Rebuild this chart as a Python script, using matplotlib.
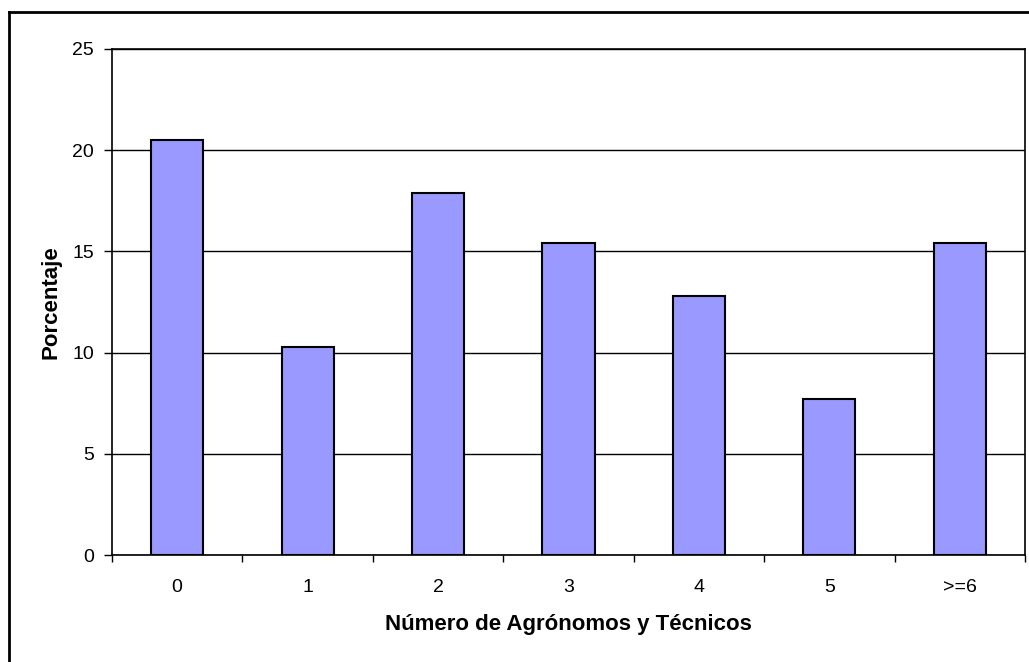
import matplotlib.pyplot as plt
from matplotlib.lines import Line2D

plt.rcParams['font.family'] = ['Liberation Sans', 'DejaVu Sans']

# Porcentaje de fincas por número de agrónomos y técnicos
categorias = ['0', '1', '2', '3', '4', '5', '>=6']
porcentaje = [20.5, 10.3, 17.9, 15.4, 12.8, 7.7, 15.4]

fig = plt.figure(figsize=(10.29, 6.62), dpi=100)
ax = fig.add_axes([0.1088, 0.1616, 0.8873, 0.7644])

x = list(range(len(categorias)))
ax.bar(x, porcentaje, width=0.4, color='#9999FF', edgecolor='black',
       linewidth=1.5, zorder=3)

ax.set_xlim(-0.5, len(categorias) - 0.5)
ax.set_ylim(0, 25)
ax.set_yticks([0, 5, 10, 15, 20, 25])
ax.yaxis.grid(True, color='black', linewidth=1.0, zorder=0)

# etiquetas al centro, marcas en los límites de cada categoría
ax.set_xticks(x)
ax.set_xticklabels(categorias)
ax.set_xticks([i - 0.5 for i in range(len(categorias) + 1)], minor=True)
ax.tick_params(axis='x', which='major', length=0, pad=17.5, labelsize=14)
ax.tick_params(axis='x', which='minor', length=5, width=1, direction='out')
ax.tick_params(axis='y', length=6, width=1, pad=7, labelsize=14)

for s in ax.spines.values():
    s.set_linewidth(1.2)
    s.set_color('black')

ax.set_xlabel('Número de Agrónomos y Técnicos', fontsize=16, fontweight='bold',
              labelpad=13)
ax.set_ylabel('Porcentaje', fontsize=16, fontweight='bold', labelpad=8)

# marco exterior del gráfico
fig.add_artist(Line2D([9 / 1029, 1.1], [1 - 12 / 662] * 2, color='black',
                      linewidth=2, transform=fig.transFigure))
fig.add_artist(Line2D([9 / 1029] * 2, [-0.1, 1 - 12 / 662], color='black',
                      linewidth=2, transform=fig.transFigure))

fig.savefig('out.png', dpi=100)
